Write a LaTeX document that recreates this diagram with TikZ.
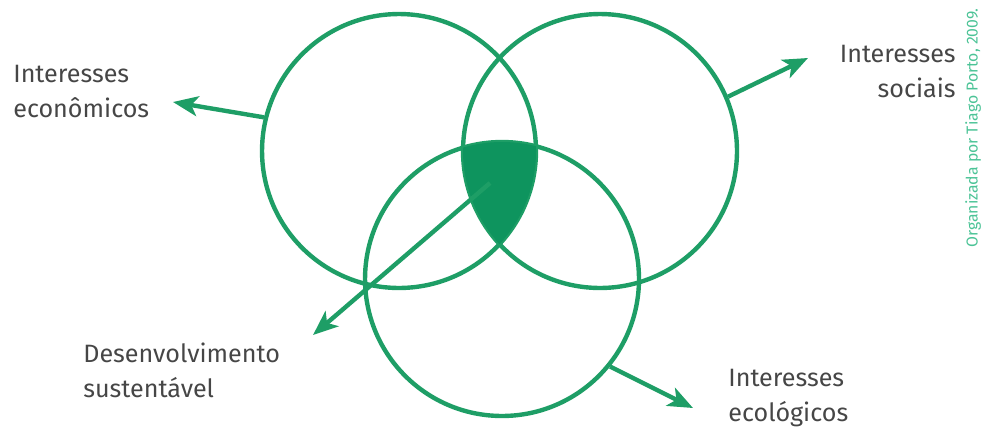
\documentclass[tikz,border=0pt]{standalone}
\usepackage{fontspec}
\setmainfont{Fira Sans}
\usetikzlibrary{arrows.meta}
\definecolor{verde}{RGB}{30,158,102}
\definecolor{verdefundo}{RGB}{14,148,94}
\definecolor{texto}{RGB}{70,70,70}
\definecolor{credito}{RGB}{75,195,150}
\begin{document}
\begin{tikzpicture}[x=0.02cm,y=-0.02cm,
	anel/.style={circle,draw=verde,line width=2.5pt,minimum size=5.48cm,inner sep=0pt},
	seta/.style={draw=verde,line width=2.5pt,-{Stealth[length=5mm,width=4mm,inset=1.3mm]}},
	rotulo/.style={text=texto,font=\fontsize{14.3}{19.8}\selectfont,inner sep=0pt}]
			\useasboundingbox (0,0) rectangle (982,430);
			% Circles
			\node[anel] (eco) at (399,151) {};
			\node[anel] (soc) at (600,151) {};
			\node[anel] (ecol) at (502,279) {};
			% Common part
			\begin{scope}
				\clip (eco.center) circle (137);
				\clip (soc.center) circle (137);
				\fill[verdefundo] (ecol.center) circle (137);
			\end{scope}
			\coordinate (nucleo) at (490,183);
			% Arrows
			\coordinate (pontaeco) at (173,102);
			\coordinate (pontasoc) at (808,58);
			\coordinate (pontaecol) at (693,408);
			\coordinate (pontadesenv) at (313,335);
			\draw[seta] (eco.166) -- (pontaeco);
			\draw[seta] (soc.23) -- (pontasoc);
			\draw[seta] (ecol.-39) -- (pontaecol);
			\draw[seta] (nucleo) -- (pontadesenv);
			% Labels (base = last line)
			\node[rotulo,anchor=base west,align=left] (txteco) at (13,117) {Interesses\\econômicos};
			\node[rotulo,anchor=base east,align=right] (txtsoc) at (956,97) {Interesses\\sociais};
			\node[rotulo,anchor=base west,align=left] (txtdesenv) at (83,397) {Desenvolvimento\\sustentável};
			\node[rotulo,anchor=base west,align=left] (txtecol) at (728,421) {Interesses\\ecológicos};
			\node[text=credito,font=\fontsize{9}{10}\selectfont,rotate=90,inner sep=0pt] (credit) at (973,128) {Organizada por Tiago Porto, 2009.};
		\end{tikzpicture}
\end{document}
